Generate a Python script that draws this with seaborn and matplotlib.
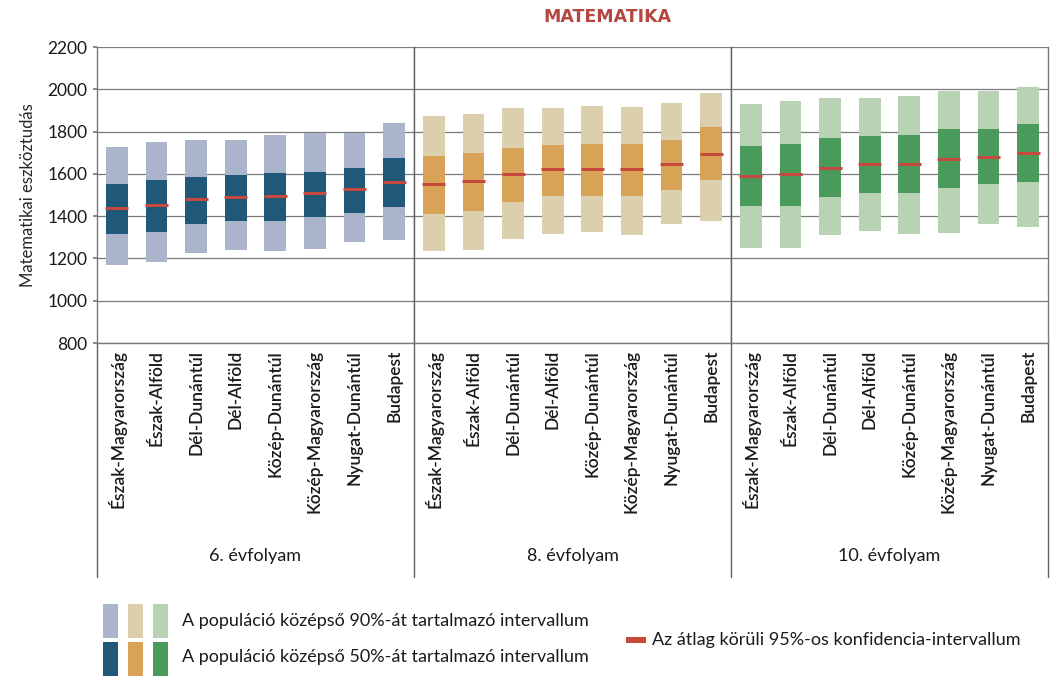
import numpy as np
import pandas as pd
import matplotlib
matplotlib.use("Agg")
import matplotlib.pyplot as plt
from matplotlib.patches import Rectangle
import seaborn as sns

regions = ["Észak-Magyarország", "Észak-Alföld", "Dél-Dunántúl", "Dél-Alföld",
           "Közép-Dunántúl", "Közép-Magyarország", "Nyugat-Dunántúl", "Budapest"]
grades = ["6. évfolyam", "8. évfolyam", "10. évfolyam"]

# percentiles (5, 25, 75, 95) and the mean
p5 = [[1168, 1184, 1226, 1238, 1237, 1246, 1278, 1289],
      [1234, 1242, 1293, 1317, 1325, 1312, 1364, 1379],
      [1249, 1249, 1312, 1332, 1315, 1320, 1364, 1351]]
p25 = [[1317, 1325, 1362, 1379, 1379, 1394, 1417, 1445],
       [1411, 1422, 1469, 1495, 1495, 1495, 1523, 1570],
       [1450, 1450, 1489, 1511, 1511, 1534, 1550, 1560]]
mean = [[1440, 1453, 1480, 1492, 1497, 1511, 1530, 1560],
        [1550, 1566, 1599, 1622, 1622, 1625, 1646, 1693],
        [1591, 1599, 1630, 1646, 1646, 1669, 1680, 1700]]
p75 = [[1552, 1570, 1586, 1594, 1602, 1610, 1630, 1675],
       [1685, 1699, 1722, 1735, 1743, 1743, 1758, 1821],
       [1730, 1743, 1769, 1777, 1782, 1813, 1813, 1837]]
p95 = [[1727, 1751, 1758, 1758, 1782, 1793, 1794, 1841],
       [1876, 1884, 1910, 1910, 1920, 1918, 1935, 1982],
       [1931, 1946, 1959, 1959, 1967, 1990, 1990, 2012]]

light = ["#aab4cb", "#dccfae", "#b8d2b3"]
dark = ["#1f5878", "#d8a356", "#4a9a5c"]
red = "#c5493d"
grid_c = "#7a7a7a"
txt_c = "#1a1a1a"

sns.set_theme(style="white")
plt.rcParams["font.family"] = ["Lato", "DejaVu Sans"]
plt.rcParams["text.color"] = txt_c

W, H = 1060, 677
fig, axes = plt.subplots(1, 3, figsize=(W / 100, H / 100), dpi=100, sharey=True)
fig.subplots_adjust(left=97 / W, right=1048 / W, top=1 - 47 / H, bottom=1 - 343 / H, wspace=0)

for i, ax in enumerate(axes):
    df = pd.DataFrame({"region": regions, "lo90": p5[i],
                       "h90": np.array(p95[i]) - np.array(p5[i]),
                       "lo50": p25[i],
                       "h50": np.array(p75[i]) - np.array(p25[i]),
                       "mean": mean[i]})
    sns.barplot(data=df, x="region", y="h90", order=regions, bottom=df["lo90"],
                color=light[i], saturation=1, width=0.55, errorbar=None,
                linewidth=0, ax=ax, zorder=3)
    sns.barplot(data=df, x="region", y="h50", order=regions, bottom=df["lo50"],
                color=dark[i], saturation=1, width=0.55, errorbar=None,
                linewidth=0, ax=ax, zorder=4)
    xs = np.arange(len(regions))
    ax.hlines(df["mean"], xs - 0.29, xs + 0.29, color=red, lw=2.2, zorder=5)

    ax.set_xlim(-0.5, len(regions) - 0.5)
    ax.set_ylim(800, 2200)
    ax.set_yticks(np.arange(800, 2201, 200))
    ax.yaxis.grid(True, color=grid_c, lw=0.9, zorder=0)
    ax.set_axisbelow(True)
    ax.set_xlabel("")
    ax.set_ylabel("")
    ax.tick_params(axis="x", labelrotation=90, labelsize=12.5, length=0, pad=5,
                   labelcolor=txt_c)
    for lab in ax.get_xticklabels():
        lab.set_fontweight("semibold")
    ax.tick_params(axis="y", labelsize=12.5, length=3, left=(i == 0), color=grid_c,
                   labelcolor=txt_c, pad=4)
    for s in ax.spines.values():
        s.set_color(grid_c)
        s.set_linewidth(1.0)
    ax.spines["top"].set_visible(False)
    if i > 0:
        ax.spines["left"].set_color("#606060")
    # divider lines continue below the axis
    ax.plot([0, 0], [0, -0.79], transform=ax.transAxes, color="#606060",
            lw=1.0, clip_on=False)
    if i == 2:
        ax.plot([1, 1], [0, -0.79], transform=ax.transAxes, color="#606060",
                lw=1.0, clip_on=False)
    ax.text(0.5, -0.72, grades[i], transform=ax.transAxes, ha="center",
            va="center", fontsize=13)

axes[0].set_ylabel("Matematikai eszköztudás", fontsize=12, labelpad=8)
fig.text(607 / W, 1 - 17 / H, "MATEMATIKA", ha="center", va="center",
         color="#b4473f", fontsize=12.5, fontweight="bold", family="DejaVu Sans")

# legend
def px_rect(x, y, w, h, c):
    fig.add_artist(Rectangle((x / W, 1 - (y + h) / H), w / W, h / H,
                             transform=fig.transFigure, color=c, lw=0))

for k in range(3):
    px_rect(103 + k * 25, 604, 15, 34, light[k])
    px_rect(103 + k * 25, 642, 15, 34, dark[k])
fig.text(182 / W, 1 - 621 / H, "A populáció középső 90%-át tartalmazó intervallum",
         ha="left", va="center", fontsize=13)
fig.text(182 / W, 1 - 657 / H, "A populáció középső 50%-át tartalmazó intervallum",
         ha="left", va="center", fontsize=13)
px_rect(626, 637, 20, 6, red)
fig.text(652 / W, 1 - 640 / H, "Az átlag körüli 95%-os konfidencia-intervallum",
         ha="left", va="center", fontsize=13)

fig.savefig("out.png", dpi=100)
